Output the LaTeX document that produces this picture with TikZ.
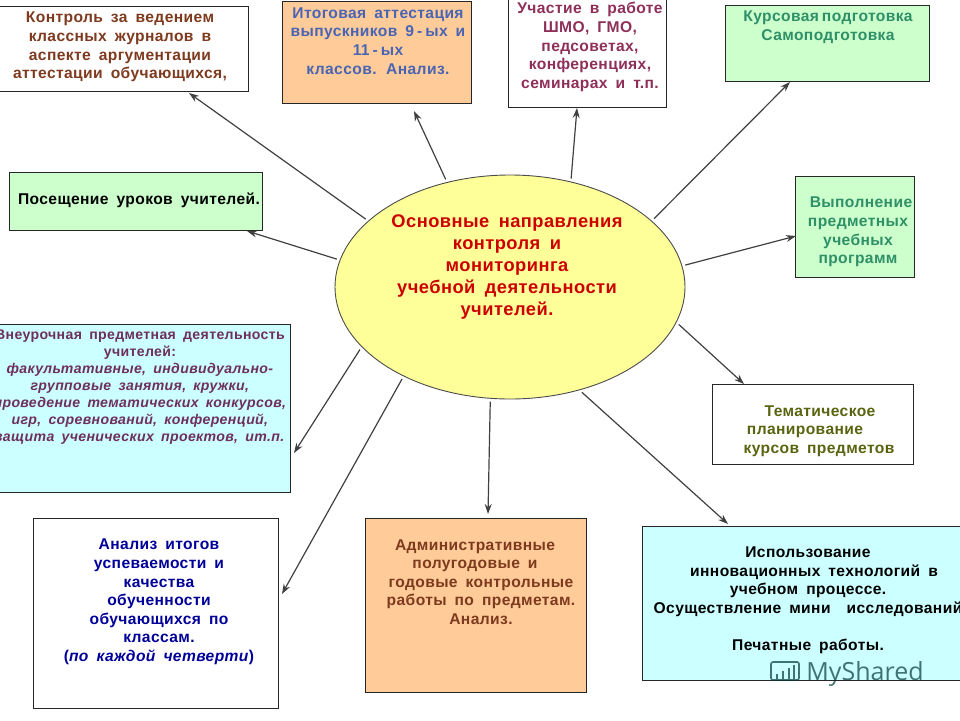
\documentclass[tikz,border=0pt]{standalone}
\usepackage{fontspec}
\usepackage{xcolor}
\setmainfont{Liberation Sans}[LetterSpace=2.5,WordSpace=1.7]
\newfontfamily\markfont{Open Sans}
\usetikzlibrary{shapes.geometric, arrows.meta}
\definecolor{paleorange}{HTML}{FFCC99}
\definecolor{palegreen}{HTML}{CCFFCC}
\definecolor{palecyan}{HTML}{CCFFFF}
\definecolor{paleyellow}{HTML}{FFFF99}
\definecolor{inkblue}{HTML}{4A64B4}
\definecolor{inkmaroon}{HTML}{8E2F5A}
\definecolor{inkteal}{HTML}{2F9068}
\definecolor{inkolive}{HTML}{5A6410}
\definecolor{inkbrown}{HTML}{7E3A1E}
\definecolor{inkplum}{HTML}{6E2F5C}
\tikzset{
    box/.style={draw=black!85, line width=0.9pt, inner sep=0pt},
    lbl/.style={align=center, inner sep=0pt, font=\fontsize{15.6}{18.6}\selectfont\bfseries},
    arrowline/.style={draw=black!75, line width=1.2pt, ->, shorten <=3pt}
}

\begin{document}
\begin{tikzpicture}[x=1pt, y=-1pt, >={Stealth[length=10pt,width=7pt]}]
    \useasboundingbox (0,0) rectangle (960,720);
    % boxes
    \node[box, minimum width=253, minimum height=85] (journal) at (121.5,48.5) {};
    \node[box, fill=paleorange, minimum width=189, minimum height=102] (finals) at (376.5,52) {};
    \node[box, minimum width=158, minimum height=109] (meetings) at (587,52.5) {};
    \node[box, fill=palegreen, minimum width=204, minimum height=76] (courses) at (827,43) {};
    \node[box, fill=palegreen, minimum width=253, minimum height=58] (visits) at (135.5,201) {};
    \node[box, fill=palegreen, minimum width=119, minimum height=101] (programs) at (854.5,226.5) {};
    \node[box, minimum width=201, minimum height=80] (plans) at (812.5,424) {};
    \node[box, fill=palecyan, minimum width=295, minimum height=168] (extra) at (142.5,408) {};
    \node[box, minimum width=245, minimum height=190] (results) at (155.5,613) {};
    \node[box, fill=paleorange, minimum width=221, minimum height=174] (admin) at (475.5,605) {};
    \node[box, fill=palecyan, minimum width=323, minimum height=154] (innov) at (803.5,603) {};
    \node[ellipse, draw=black!70, line width=0.9pt, fill=paleyellow, inner sep=0pt,
        minimum width=350, minimum height=224] (main) at (510,287) {};

    % labels
    \node[lbl, text=inkbrown] (journalText) at (120,47) {Контроль за ведением\\классных журналов в\\аспекте аргументации\\аттестации обучающихся,};
    \node[lbl, text=inkblue] (finalsText) at (378,41) {Итоговая аттестация\\выпускников 9\hspace{3pt}-\hspace{3pt}ых и\\11\hspace{3pt}-\hspace{3pt}ых\\классов. Анализ.};
    \node[lbl, text=inkmaroon] (meetingsText) at (590,47) {Участие в работе\\ШМО, ГМО,\\педсоветах,\\конференциях,\\семинарах и т.п.};
    \node[lbl, text=inkteal] (coursesText) at (828,27) {Курсовая\hspace{3pt}подготовка\\Самоподготовка};
    \node[lbl] (visitsText) at (139,200) {Посещение уроков учителей.};
    \node[lbl, text=inkteal] (programsText) at (858,232) {\hspace*{6pt}Выполнение\\предметных\\учебных\\программ};
    \node[lbl, text=inkolive] (plansText) at (814,431) {\hspace*{12pt}Тематическое\\\hspace*{-18pt}планирование\\\hspace*{10pt}курсов предметов};
    \node[lbl, text=inkplum, font=\fontsize{14.1}{17}\selectfont\bfseries] (extraText) at (140,387) {Внеурочная предметная деятельность\\учителей:\\\textit{факультативные, индивидуально-}\\\textit{групповые занятия, кружки,}\\\textit{проведение тематических конкурсов,}\\\textit{игр, соревнований, конференций,}\\\textit{защита ученических проектов, ит.п.}};
    \node[lbl, text=blue!60!black] (resultsText) at (159,602) {Анализ итогов\\успеваемости и\\качества\\обученности\\обучающихся по\\классам.\\(\textit{по каждой четверти})};
    \node[lbl, text=inkbrown] (adminText) at (481,582) {\hspace*{-12pt}Административные\\\hspace*{-12pt}полугодовые и\\годовые контрольные\\работы по предметам.\\Анализ.};
    \node[lbl] (innovText) at (808,600.5) {Использование\\\hspace*{12pt}инновационных технологий в\\учебном процессе.\\Осуществление мини\hspace{8pt} исследований\\[18.6pt]Печатные работы.};
    \node[lbl, text=red!80!black, font=\fontsize{18.3}{21.8}\selectfont\bfseries] (mainText) at (507,267) {Основные направления\\контроля и\\мониторинга\\учебной деятельности\\учителей.};

    % free ends of the arrows
    \coordinate (toJournal) at (189,93);
    \coordinate (toFinals) at (414,111);
    \coordinate (toMeetings) at (577,108);
    \coordinate (toCourses) at (790,82);
    \coordinate (toPrograms) at (796,236);
    \coordinate (toPlans) at (744,384);
    \coordinate (toInnov) at (728,524);
    \coordinate (toAdmin) at (488,514);
    \coordinate (toResults) at (282,594);
    \coordinate (toExtra) at (294,453);
    \coordinate (toVisits) at (247,231);
    \foreach \ang/\tip in {155.7/toJournal, 121.3/toFinals, 60.5/toMeetings, 25.3/toCourses,
        7.6/toPrograms, -12.4/toPlans, -56.3/toInnov, -100.7/toAdmin, -140.2/toResults,
        -158.3/toExtra, 171.7/toVisits}
        \draw[arrowline] (main.\ang) -- (\tip);

    % watermark
    \node[text=black!55!teal, opacity=0.7, inner sep=0pt, font=\fontsize{25}{25}\selectfont\markfont\addfontfeature{LetterSpace=0}] (mark) at (865,674) {MyShared};
    \draw[black!55!teal, opacity=0.7, line width=1.6pt, rounded corners=2pt] (771,662) rectangle (799,680);
    \foreach \x/\h in {777/5, 783/8, 789/11, 794/14}
        \draw[black!55!teal, opacity=0.7, line width=2.4pt] (\x,679) -- (\x,679-\h);
\end{tikzpicture}
\end{document}
